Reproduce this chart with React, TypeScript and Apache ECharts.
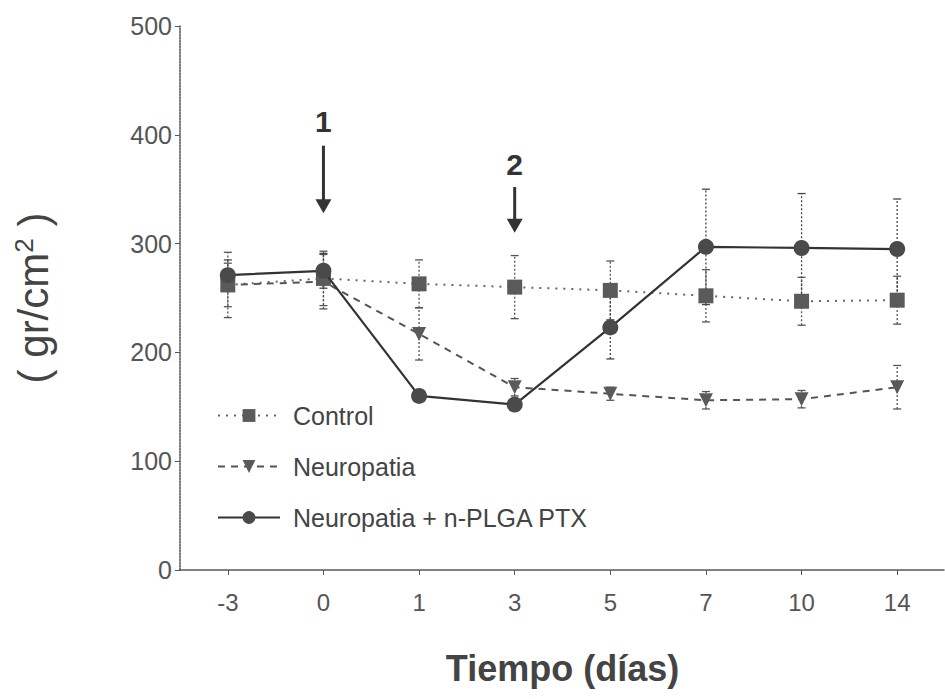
import React, { useEffect, useRef } from "react";
import * as echarts from "echarts";

const categories = ["-3", "0", "1", "3", "5", "7", "10", "14"];
const controlVals = [262, 268, 263, 260, 257, 252, 247, 248];
const controlErr = [30, 25, 22, 29, 27, 24, 22, 22];
const neuroVals = [262, 265, 217, 168, 162, 156, 157, 168];
const neuroErr = [20, 25, 24, 8, 6, 8, 8, 20];
const ptxVals = [271, 275, 160, 152, 223, 297, 296, 295];
const ptxErr = [14, 16, 5, 5, 29, 53, 50, 46];
const yTicks = { min: 0, max: 500, interval: 100 };
const arrows = [
  { cat: "0", label: "1", labelVal: 412, top: 390, bottom: 328 },
  { cat: "3", label: "2", labelVal: 373, top: 352, bottom: 310 },
];

const FONT = "Liberation Sans, Arial, sans-serif";

function errData(vals: number[], errs: number[]) {
  return vals.map((v, i) => [i, v - errs[i], v + errs[i]]);
}

function errSeries(name: string, vals: number[], errs: number[], color: string) {
  return {
    type: "custom",
    name: name + "-err",
    z: 1,
    silent: true,
    data: errData(vals, errs),
    renderItem: (params: any, api: any) => {
      const x = api.value(0);
      const lo = api.coord([x, api.value(1)]);
      const hi = api.coord([x, api.value(2)]);
      const w = 4;
      const st = { stroke: color, lineWidth: 1.3, lineDash: [2, 2] };
      return {
        type: "group",
        children: [
          { type: "line", shape: { x1: lo[0], y1: lo[1], x2: hi[0], y2: hi[1] }, style: st },
          { type: "line", shape: { x1: lo[0] - w, y1: lo[1], x2: lo[0] + w, y2: lo[1] }, style: { stroke: color, lineWidth: 1.3 } },
          { type: "line", shape: { x1: hi[0] - w, y1: hi[1], x2: hi[0] + w, y2: hi[1] }, style: { stroke: color, lineWidth: 1.3 } },
        ],
      };
    },
  };
}

export default function App() {
  const ref = useRef<HTMLDivElement>(null);
  useEffect(() => {
    if (!ref.current) return;
    const chart = echarts.init(ref.current, null, { renderer: "svg" });
    const option: any = {
      animation: false,
      backgroundColor: "#ffffff",
      grid: { left: 180, right: 0, top: 26, bottom: 129, containLabel: false },
      legend: {
        data: ["Control", "Neuropatia", "Neuropatia + n-PLGA PTX"],
        orient: "vertical",
        left: 212,
        top: 398,
        itemWidth: 62,
        itemHeight: 16,
        itemGap: 26,
        textStyle: { fontFamily: FONT, fontSize: 25, color: "#444", padding: [0, 0, 0, 8] },
      },
      xAxis: {
        type: "category",
        data: categories,
        boundaryGap: true,
        name: "Tiempo (días)",
        nameLocation: "middle",
        nameGap: 80,
        nameTextStyle: { fontFamily: FONT, fontSize: 36, fontWeight: "bold", color: "#444" },
        axisLine: { lineStyle: { color: "#555", width: 1.5, type: [2, 1] } },
        axisTick: { show: true, alignWithLabel: true, length: 5, lineStyle: { color: "#555" } },
        axisLabel: { fontFamily: FONT, fontSize: 24, color: "#555", margin: 20 },
      },
      yAxis: {
        type: "value",
        min: yTicks.min,
        max: yTicks.max,
        interval: yTicks.interval,
        name: "{a|( gr/cm}{s|2}{a| )}",
        nameLocation: "middle",
        nameGap: 125,
        nameRotate: 90,
        nameTextStyle: {
          rich: {
            a: { fontFamily: FONT, fontSize: 42, color: "#444" },
            s: { fontFamily: FONT, fontSize: 26, color: "#444", verticalAlign: "top", padding: [0, 0, 18, 0] },
          },
        },
        axisLine: { show: true, lineStyle: { color: "#555", width: 1.5, type: [2, 1] } },
        axisTick: { show: true, length: 5, lineStyle: { color: "#555" } },
        splitLine: { show: false },
        axisLabel: { fontFamily: FONT, fontSize: 25, color: "#555", margin: 8 },
      },
      series: [
        errSeries("Control", controlVals, controlErr, "#555"),
        errSeries("Neuropatia", neuroVals, neuroErr, "#555"),
        errSeries("PTX", ptxVals, ptxErr, "#444"),
        {
          type: "line",
          name: "Control",
          data: controlVals,
          z: 3,
          symbol: "rect",
          symbolSize: 15,
          itemStyle: { color: "#5a5a5a" },
          lineStyle: { color: "#666", width: 2, type: [2, 6] },
        },
        {
          type: "line",
          name: "Neuropatia",
          data: neuroVals,
          z: 3,
          symbol: "triangle",
          symbolRotate: 180,
          symbolSize: 14,
          itemStyle: { color: "#5a5a5a" },
          lineStyle: { color: "#555", width: 2, type: [7, 6] },
        },
        {
          type: "line",
          name: "Neuropatia + n-PLGA PTX",
          data: ptxVals,
          z: 4,
          symbol: "circle",
          symbolSize: 16,
          itemStyle: { color: "#4a4a4a" },
          lineStyle: { color: "#333", width: 2.2, type: "solid" },
        },
      ],
    };
    chart.setOption(option);
    const g: any[] = [];
    arrows.forEach((a) => {
      const pl = chart.convertToPixel({ gridIndex: 0 }, [a.cat, a.labelVal]) as number[];
      const pt = chart.convertToPixel({ gridIndex: 0 }, [a.cat, a.top]) as number[];
      const pb = chart.convertToPixel({ gridIndex: 0 }, [a.cat, a.bottom]) as number[];
      g.push({
        type: "text",
        x: pl[0],
        y: pl[1],
        style: { text: a.label, fontFamily: FONT, fontSize: 30, fontWeight: "bold", fill: "#333", align: "center", verticalAlign: "middle" },
      });
      g.push({
        type: "line",
        shape: { x1: pt[0], y1: pt[1], x2: pb[0], y2: pb[1] - 10 },
        style: { stroke: "#333", lineWidth: 3 },
      });
      g.push({
        type: "polygon",
        shape: { points: [[pb[0] - 8, pb[1] - 14], [pb[0] + 8, pb[1] - 14], [pb[0], pb[1]]] },
        style: { fill: "#333" },
      });
    });
    chart.setOption({ graphic: g });
    return () => chart.dispose();
  }, []);
  return <div ref={ref} style={{ position: "fixed", left: 0, top: 0, width: 945, height: 699 }} />;
}
